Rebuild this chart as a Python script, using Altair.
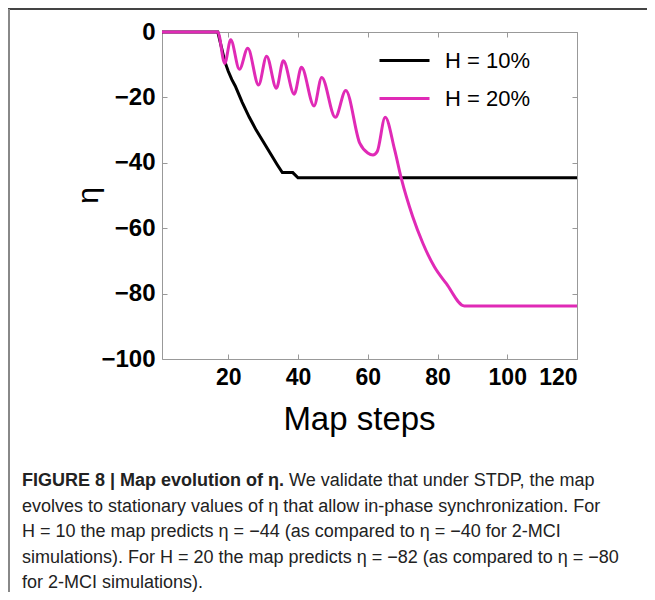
import altair as alt
import pandas as pd

# ---- data ----
series_names = ["H = 10%", "H = 20%"]
series_colors = ["#000000", "#E02AB6"]

black_x = [1, 17, 18, 19, 20, 21, 22, 23, 24, 26, 28, 30, 32, 34, 35.5, 38.5, 40, 120]
black_y = [0, 0, -4.5, -9, -12, -14.5, -16.5, -19, -21.5, -26, -30, -33.5, -37, -40.5, -43, -43, -44.6, -44.6]

mag_x = [1, 17, 19, 20.7, 23.2, 25.6, 28.7, 31, 33.8, 35.8, 38.9, 41, 44.6, 46.8, 50.7,
         53.7, 57.7, 60, 61.5, 62.7, 65, 67.7, 69.6, 72.9, 75.8, 79.1, 82.5, 87.7, 120]
mag_y = [0, 0, -9.6, -2.4, -11.4, -5, -16.2, -7.4, -17.2, -8.8, -19, -10.8, -22.6, -13.9, -26.1,
         -17.9, -34, -37, -37.6, -36.6, -26.1, -36, -44.7, -56.5, -64.6, -71.8, -76.9, -83.8, -83.8]

x_ticks = [20, 40, 60, 80, 100, 120]
y_ticks = [0, -20, -40, -60, -80, -100]

caption_bold = "FIGURE 8 | Map evolution of η."
caption_lines = [
    "We validate that under STDP, the map",
    "evolves to stationary values of η that allow in-phase synchronization. For",
    "H = 10 the map predicts η = −44 (as compared to η = −40 for 2-MCI",
    "simulations). For H = 20 the map predicts η = −82 (as compared to η = −80",
    "for 2-MCI simulations).",
]

df_black = pd.DataFrame({"x": black_x, "eta": black_y, "series": series_names[0]})
df_mag = pd.DataFrame({"x": mag_x, "eta": mag_y, "series": series_names[1]})

W, H = 415, 327
AX_FONT = "Liberation Sans"
CAP_FONT = "Liberation Sans"
CAP_SIZE = 18

xs = alt.Scale(domain=[1, 120], nice=False, zero=False)
ys = alt.Scale(domain=[-100, 0], nice=False)

x_main = alt.X("x:Q", scale=xs, axis=alt.Axis(
    orient="bottom", values=x_ticks, offset=-5, tickSize=5, tickColor="#999",
    domain=False, grid=False, labelFont=AX_FONT, labelFontSize=23,
    labelFontWeight="bold", labelColor="#000", labelPadding=7,
    title="Map steps", titleFont=AX_FONT, titleFontSize=33, titleFontWeight="normal",
    titleColor="#000", titleX=197, titleY=75, titleBaseline="alphabetic",
    titleAlign="center", titleAnchor="middle"))
y_main = alt.Y("eta:Q", scale=ys, axis=alt.Axis(
    orient="left", values=y_ticks, offset=-5, tickSize=5, tickColor="#999",
    domain=False, grid=False, labelFont=AX_FONT, labelFontSize=24,
    labelFontWeight="bold", labelColor="#000", labelPadding=7,
    title="η", titleFont=AX_FONT, titleFontSize=30, titleFontWeight="normal",
    titleColor="#000", titleX=-79, titleY=163, titleBaseline="middle",
    titleAlign="center", titleAngle=270))
color_enc = alt.Color("series:N", scale=alt.Scale(domain=series_names, range=series_colors),
                      legend=alt.Legend(
                          title=None, orient="none", legendX=216, legendY=2,
                          symbolType="stroke", symbolSize=2500, symbolStrokeWidth=3,
                          labelFont=AX_FONT, labelFontSize=22, labelColor="#000",
                          labelOffset=14, rowPadding=-4, padding=0))

line_black = alt.Chart(df_black).mark_line(strokeWidth=3).encode(
    x=x_main, y=y_main, color=color_enc)
line_mag = alt.Chart(df_mag).mark_line(strokeWidth=3, interpolate="monotone").encode(
    x=alt.X("x:Q", scale=xs, axis=None), y=alt.Y("eta:Q", scale=ys, axis=None),
    color="series:N")

frame = alt.Chart(df_black).mark_line(opacity=0).encode(
    x=alt.X("x:Q", scale=xs, axis=alt.Axis(
        orient="top", values=x_ticks, offset=-5, tickSize=5, tickColor="#999",
        domain=False, grid=False, labels=False, title="")),
    y=alt.Y("eta:Q", scale=ys, axis=alt.Axis(
        orient="right", values=y_ticks, offset=-5, tickSize=5, tickColor="#999",
        domain=False, grid=False, labels=False, title="")),
)

one = pd.DataFrame({"a": [0]})
LEFT = -140
base_y = 454
step = 25.5

texts = [
    alt.Chart(one).mark_text(align="left", baseline="alphabetic", font=CAP_FONT,
                             fontSize=CAP_SIZE, fontWeight="bold", color="#222").encode(
        x=alt.value(LEFT), y=alt.value(base_y), text=alt.value(caption_bold)),
    alt.Chart(one).mark_text(align="left", baseline="alphabetic", font=CAP_FONT,
                             fontSize=CAP_SIZE, color="#222").encode(
        x=alt.value(127), y=alt.value(base_y), text=alt.value(caption_lines[0])),
]
for i, line in enumerate(caption_lines[1:], start=1):
    texts.append(
        alt.Chart(one).mark_text(align="left", baseline="alphabetic", font=CAP_FONT,
                                 fontSize=CAP_SIZE, color="#222").encode(
            x=alt.value(LEFT), y=alt.value(base_y + i * step), text=alt.value(line)))

border_top = alt.Chart(one).mark_rule(color="#444", strokeWidth=2).encode(
    x=alt.value(-154), x2=alt.value(W + 80), y=alt.value(-23))
border_left = alt.Chart(one).mark_rule(color="#888", strokeWidth=2).encode(
    x=alt.value(-153), y=alt.value(-23), y2=alt.value(H + 260))

chart = alt.layer(frame, line_black, line_mag, border_top, border_left, *texts).resolve_axis(
    x="independent", y="independent"
).properties(
    width=W, height=H, autosize="none",
    padding={"left": 154, "top": 24, "right": 70, "bottom": 233},
).configure_view(stroke="#999", strokeWidth=1)

chart.save("out.html", embed_options={"renderer": "svg", "actions": False})
